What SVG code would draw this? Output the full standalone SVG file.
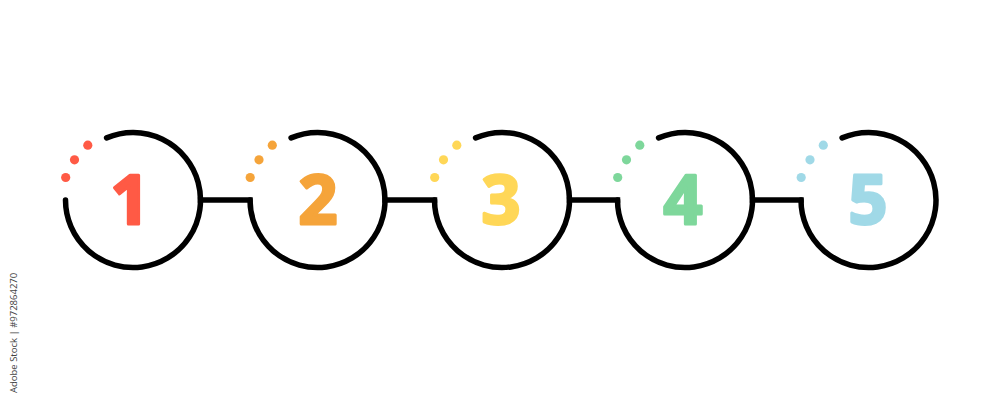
<svg xmlns="http://www.w3.org/2000/svg" xmlns:xlink="http://www.w3.org/1999/xlink" width="1000" height="400" viewBox="0 0 1000 400">
  <style>
    .ring { fill: none; stroke: #000; stroke-width: 5.5; stroke-linecap: round; }
    .link { fill: none; stroke: #000; stroke-width: 5.5; stroke-linecap: square; }
    .num { font-family: "Open Sans", "Noto Sans", sans-serif; font-weight: 700; font-size: 68px; text-anchor: middle; stroke-width: 3; stroke-linejoin: round; }
    .wm { font-family: "Open Sans", "Liberation Sans", sans-serif; font-size: 9.5px; fill: #444; }
  </style>
  <defs>
    <g id="dots">
      <circle cx="-67.3" cy="-22.5" r="4.6"/>
      <circle cx="-58.5" cy="-40.2" r="4.6"/>
      <circle cx="-45.2" cy="-54.8" r="4.6"/>
    </g>
  </defs>
  <rect width="1000" height="400" fill="#fff"/>

  <g id="connectors">
    <path class="link" d="M200.5,200 H250"/>
    <path class="link" d="M385,200 H434.5"/>
    <path class="link" d="M569.5,200 H617.5"/>
    <path class="link" d="M752.5,200 H801"/>
  </g>

  <g id="step1">
    <path class="ring" d="M65.5,200 A67.5,67.5 0 1 0 106.6,137.9"/>
    <use href="#dots" xlink:href="#dots" transform="translate(133,200)" fill="#FF5A45"/>
    <text class="num" x="130" y="224" fill="#FF5A45" stroke="#FF5A45">1</text>
  </g>
  <g id="step2">
    <path class="ring" d="M250,200 A67.5,67.5 0 1 0 291.1,137.9"/>
    <use href="#dots" xlink:href="#dots" transform="translate(317.5,200)" fill="#F5A43A"/>
    <text class="num" x="318" y="224" fill="#F5A43A" stroke="#F5A43A">2</text>
  </g>
  <g id="step3">
    <path class="ring" d="M434.5,200 A67.5,67.5 0 1 0 475.6,137.9"/>
    <use href="#dots" xlink:href="#dots" transform="translate(502,200)" fill="#FFD757"/>
    <text class="num" x="501" y="224" fill="#FFD757" stroke="#FFD757">3</text>
  </g>
  <g id="step4">
    <path class="ring" d="M617.5,200 A67.5,67.5 0 1 0 658.6,137.9"/>
    <use href="#dots" xlink:href="#dots" transform="translate(685,200)" fill="#7ED79B"/>
    <text class="num" x="683" y="224" fill="#7ED79B" stroke="#7ED79B">4</text>
  </g>
  <g id="step5">
    <path class="ring" d="M801,200 A67.5,67.5 0 1 0 842.1,137.9"/>
    <use href="#dots" xlink:href="#dots" transform="translate(868.5,200)" fill="#A0D9E7"/>
    <text class="num" x="868" y="224" fill="#A0D9E7" stroke="#A0D9E7">5</text>
  </g>

  <text class="wm" transform="translate(17,393) rotate(-90)">Adobe Stock | #972864270</text>
</svg>
